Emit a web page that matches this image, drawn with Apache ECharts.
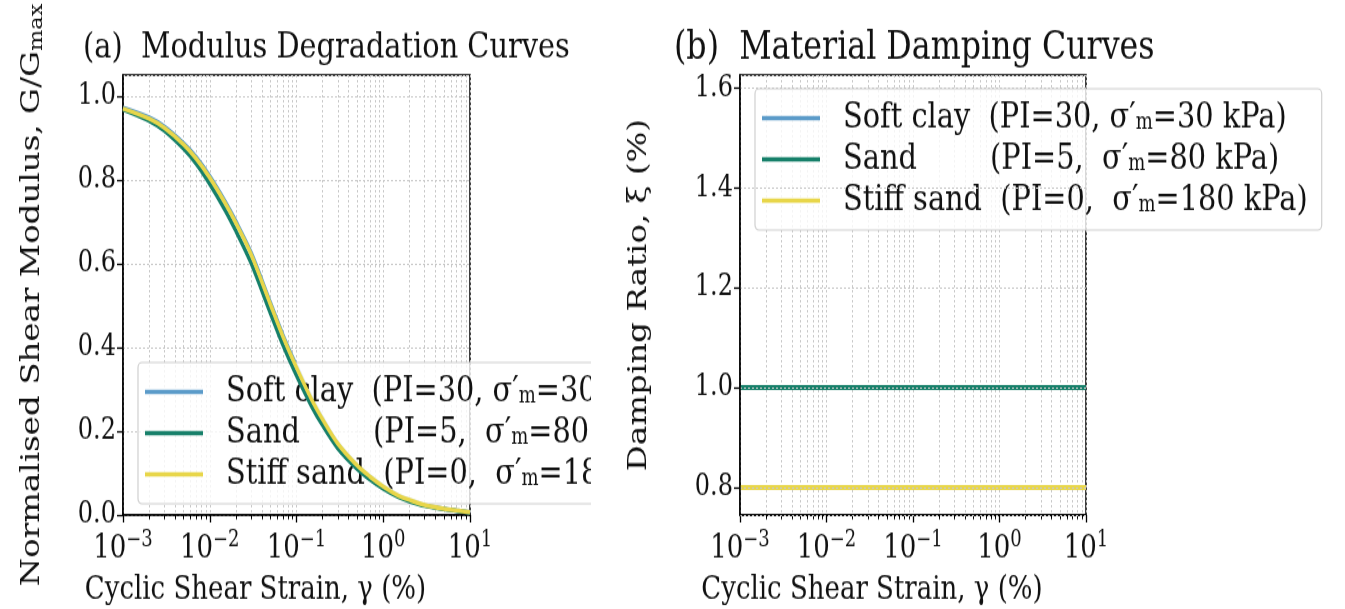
<!DOCTYPE html>
<html>
<head>
<meta charset="utf-8">
<script src="https://cdn.jsdelivr.net/npm/echarts@6/dist/echarts.min.js"></script>
<style>
    html, body { margin: 0; padding: 0; background: #fff; }
    #wrap { width: 1345px; height: 609px; overflow: hidden; position: relative; }
    /* the reference picture is stretched vertically, so the chart is drawn flatter and scaled */
    #main { position: absolute; left: 0; top: 0; width: 1345px; height: 487px; transform: scale(1, 1.25); transform-origin: 0 0; }
</style>
</head>
<body>
<div id="wrap"><div id="main"></div></div>
<script>
'use strict';

// cyclic shear strain, %
const strain = [0.001, 0.002, 0.003, 0.005, 0.007, 0.01, 0.015, 0.02, 0.03, 0.05, 0.07, 0.1,
    0.15, 0.2, 0.3, 0.5, 0.7, 1, 1.5, 2, 3, 5, 7, 10];

// G/Gmax
const softClayG = [0.972, 0.949, 0.927, 0.887, 0.854, 0.809, 0.749, 0.701, 0.626, 0.507, 0.429, 0.356,
    0.279, 0.231, 0.172, 0.120, 0.093, 0.069, 0.047, 0.037, 0.024, 0.015, 0.011, 0.007];
const sandG = [0.968, 0.941, 0.917, 0.874, 0.838, 0.790, 0.728, 0.678, 0.601, 0.482, 0.405, 0.333,
    0.259, 0.214, 0.159, 0.110, 0.085, 0.063, 0.043, 0.033, 0.022, 0.014, 0.010, 0.006];
const stiffSandG = [0.970, 0.946, 0.924, 0.884, 0.850, 0.805, 0.745, 0.697, 0.622, 0.503, 0.425, 0.352,
    0.275, 0.228, 0.170, 0.118, 0.092, 0.068, 0.046, 0.036, 0.024, 0.015, 0.011, 0.007];

// damping ratio, % (panel b)
const softClayD = [1.0, 1.0, 1.0, 1.0, 1.0, 1.0, 1.0, 1.0, 1.0, 1.0, 1.0, 1.0,
    1.0, 1.0, 1.0, 1.0, 1.0, 1.0, 1.0, 1.0, 1.0, 1.0, 1.0, 1.0];
const sandD = [1.0, 1.0, 1.0, 1.0, 1.0, 1.0, 1.0, 1.0, 1.0, 1.0, 1.0, 1.0,
    1.0, 1.0, 1.0, 1.0, 1.0, 1.0, 1.0, 1.0, 1.0, 1.0, 1.0, 1.0];
const stiffSandD = [0.8, 0.8, 0.8, 0.8, 0.8, 0.8, 0.8, 0.8, 0.8, 0.8, 0.8, 0.8,
    0.8, 0.8, 0.8, 0.8, 0.8, 0.8, 0.8, 0.8, 0.8, 0.8, 0.8, 0.8];

const seriesNames = ['Soft clay', 'Sand', 'Stiff sand'];
const legendNames = ['Soft clay  ', 'Sand        ', 'Stiff sand  '];
const legendPI = ['(PI=30, ', '(PI=5,  ', '(PI=0,  '];
const legendSigma = ['=30 kPa)', '=80 kPa)', '=180 kPa)'];
const colors = ['#5b9bc9', '#17806a', '#e8d64a'];

const majorTicks = [0.001, 0.01, 0.1, 1, 10];
const minorTicks = [];
for (let k = -3; k < 1; k++) {
    for (let m = 2; m < 10; m++) {
        minorTicks.push(+(m * Math.pow(10, k)).toPrecision(3));
    }
}

const FONT = 'DejaVu Serif';
const gridLine = { show: true, lineStyle: { color: '#c8c8c8', type: [2, 2], width: 1 } };

const supLabel = (v) => {
    const e = Math.round(Math.log10(v));
    return '{b|10}{s|' + String(e).replace('-', '\u2212') + '}';
};

const legendText = (name) => {
    const i = seriesNames.indexOf(name);
    return '{t|' + legendNames[i] + legendPI[i] + '\u03c3\u2032}{m|m}{t|' + legendSigma[i] + '}';
};

const makeX = (gridIndex) => ({
    type: 'log',
    gridIndex: gridIndex,
    min: 0.001,
    max: 10,
    logBase: 10,
    name: 'Cyclic Shear Strain, \u03b3 (%)',
    nameLocation: 'middle',
    nameGap: 47,
    nameTextStyle: { fontFamily: FONT, fontSize: 26, color: '#111', padding: [0, 82, 0, 0] },
    axisLine: { show: true, onZero: false, lineStyle: { color: '#000', width: 1.5 } },
    axisTick: { show: true, length: 6, lineStyle: { color: '#000', width: 1.3 }, customValues: majorTicks },
    axisLabel: {
        margin: 11,
        customValues: majorTicks,
        formatter: supLabel,
        rich: {
            b: { fontFamily: FONT, fontSize: 26, color: '#111' },
            s: { fontFamily: FONT, fontSize: 18, color: '#111', padding: [0, 0, 14, 0] }
        }
    },
    splitLine: gridLine
});

const makeMinorX = (gridIndex) => ({
    type: 'log',
    gridIndex: gridIndex,
    min: 0.001,
    max: 10,
    logBase: 10,
    position: 'bottom',
    axisLine: { show: false },
    axisTick: { show: true, length: 3.5, lineStyle: { color: '#000', width: 1 }, customValues: minorTicks },
    axisLabel: { show: false },
    splitLine: gridLine
});

const makeY = (gridIndex, opt, showMin) => Object.assign({
    type: 'value',
    gridIndex: gridIndex,
    nameLocation: 'middle',
    nameRotate: 90,
    nameGap: 76,
    axisLine: { show: true, lineStyle: { color: '#000', width: 1.5 } },
    axisTick: { show: true, length: 6, lineStyle: { color: '#000', width: 1.3 } },
    axisLabel: {
        margin: 7,
        fontFamily: FONT, fontSize: 24, color: '#111',
        showMinLabel: showMin, showMaxLabel: false,
        formatter: (v) => v.toFixed(1)
    },
    splitLine: gridLine
}, opt);

const makeLegend = (pos) => Object.assign({
    data: seriesNames,
    orient: 'vertical',
    icon: 'rect',
    itemWidth: 58,
    itemHeight: 3.5,
    itemGap: 4,
    padding: [9, 14, 9, 7],
    backgroundColor: 'rgba(255,255,255,0.8)',
    borderColor: '#d0d0d0',
    borderWidth: 1.2,
    borderRadius: 4,
    formatter: legendText,
    textStyle: {
        padding: [0, 0, 0, 18],
        rich: {
            t: { fontFamily: FONT, fontSize: 28.8, color: '#111', lineHeight: 29 },
            m: { fontFamily: FONT, fontSize: 18, color: '#111', lineHeight: 29, padding: [8, 0, 0, 0] }
        }
    }
}, pos);

const makeLine = (i, data, xi, yi, w) => ({
    name: seriesNames[i],
    type: 'line',
    xAxisIndex: xi,
    yAxisIndex: yi,
    data: strain.map((s, k) => [s, data[k]]),
    smooth: 0.3,
    showSymbol: false,
    symbol: 'none',
    lineStyle: { color: colors[i], width: w },
    itemStyle: { color: colors[i] },
    z: 3 + i
});

const chart = echarts.init(document.getElementById('main'));

const option = {
    animation: false,
    backgroundColor: '#fff',
    title: [{
        text: '(a)  Modulus Degradation Curves',
        left: 78,
        top: 19,
        textStyle: { fontFamily: FONT, fontSize: 28.8, fontWeight: 'normal', color: '#111' }
    }, {
        text: '(b)  Material Damping Curves',
        left: 669,
        top: 18,
        textStyle: { fontFamily: FONT, fontSize: 31.7, fontWeight: 'normal', color: '#111' }
    }],
    grid: [
        { left: 123, top: 60, width: 347, height: 352, outerBoundsMode: 'none', show: true, borderColor: '#000', borderWidth: 1.5 },
        { left: 740, top: 60, width: 346, height: 352, outerBoundsMode: 'none', show: true, borderColor: '#000', borderWidth: 1.5 }
    ],
    xAxis: [makeX(0), makeMinorX(0), makeX(1), makeMinorX(1)],
    yAxis: [
        makeY(0, {
            min: 0, max: 1.05, interval: 0.2,
            name: '{a|Normalised Shear Modulus, G/G}{b|max}',
            nameTextStyle: {
                rich: {
                    a: { fontFamily: FONT, fontSize: 26, color: '#111', lineHeight: 30 },
                    b: { fontFamily: FONT, fontSize: 18, color: '#111', lineHeight: 30, padding: [10, 0, 0, 0] }
                }
            }
        }, true),
        makeY(1, {
            min: 0.745, max: 1.626,
            z: 10,
            nameGap: 88,
            name: 'Damping Ratio, \u03be (%)',
            nameTextStyle: { fontFamily: FONT, fontSize: 26, color: '#111' }
        }, false)
    ],
    legend: [
        makeLegend({ left: 138, top: 290 }),
        makeLegend({ left: 755, top: 71 })
    ],
    graphic: [{
        // panel (a) legend runs off the edge of its subplot area
        type: 'rect',
        left: 591,
        top: 282,
        shape: { width: 140, height: 126 },
        style: { fill: '#fff' },
        z: 6
    }],
    series: [
        makeLine(0, softClayG, 0, 0, 3.5),
        makeLine(1, sandG, 0, 0, 3.5),
        makeLine(2, stiffSandG, 0, 0, 3.5),
        makeLine(0, softClayD, 2, 1, 4),
        makeLine(1, sandD, 2, 1, 4),
        makeLine(2, stiffSandD, 2, 1, 4)
    ]
};

chart.setOption(option);
</script>
</body>
</html>
